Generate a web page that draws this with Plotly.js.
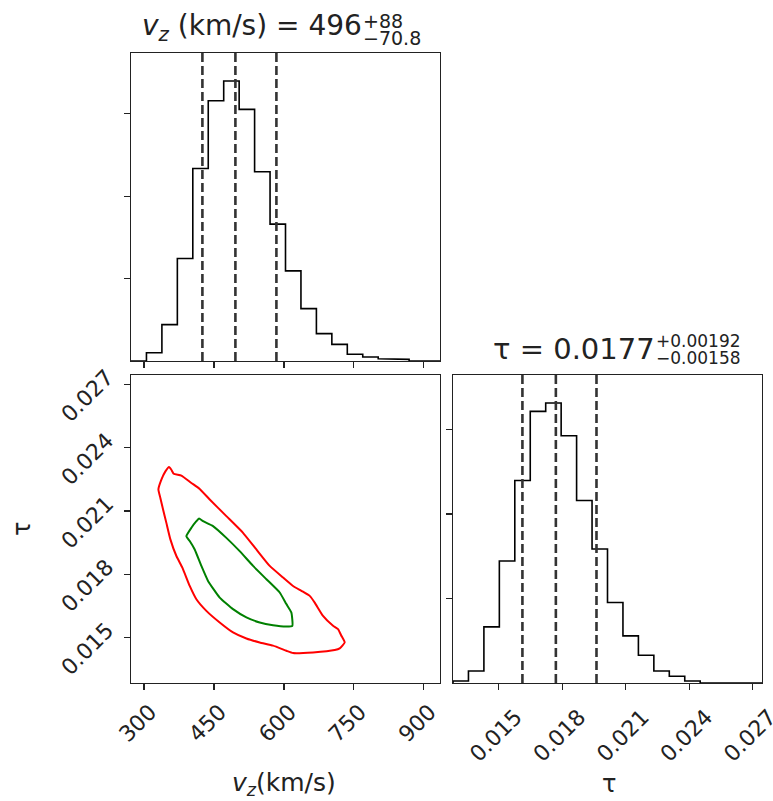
<!DOCTYPE html>
<html><head><meta charset="utf-8">
<script src="https://cdn.plot.ly/plotly-3.0.1.min.js"></script>
<style>html,body{margin:0;padding:0;background:#fff}</style>
</head><body><div id="chart" style="width:773px;height:801px"></div>
<script>
// ---- data ----
const vzRange = [272, 935];
const tauRange = [0.01284, 0.02744];
const vzCounts = [0, 101, 441, 1243, 2336, 3158, 3397, 3053, 2296, 1660, 1093, 636, 332, 202, 81, 49, 28, 20, 0, 0];
const tauCounts = [24, 142, 664, 1443, 2395, 3213, 3312, 2925, 2158, 1585, 953, 557, 328, 142, 79, 24, 0, 0, 0, 0];
const vzQuantiles = [425.2, 496, 584];
const tauQuantiles = [0.01612, 0.0177, 0.01962];
const vzTicks = [300, 450, 600, 750, 900];
const vzTickText = ['300', '450', '600', '750', '900'];
const tauTicks = [0.015, 0.018, 0.021, 0.024, 0.027];
const tauTickText = ['0.015', '0.018', '0.021', '0.024', '0.027'];
const countTicks = [1000, 2000, 3000];
const outerVz = [353.6, 358.6, 363.6, 380.1, 401.6, 419.4, 440.9, 476.6, 512.4, 541.0, 569.6, 598.2, 619.7, 637.6, 655.4, 666.2, 684.0, 705.5, 716.2, 723.4, 730.5, 719.8, 709.1, 662.6, 619.7, 605.4, 576.8, 548.2, 519.6, 490.9, 462.3, 433.7, 412.3, 398.0, 382.2, 369.4, 356.5, 347.9, 340.8, 335.0, 330.8, 337.2, 345.8, 353.6];
const outerTau = [0.02308, 0.02295, 0.02276, 0.02267, 0.02232, 0.02204, 0.02154, 0.02075, 0.01996, 0.01917, 0.01839, 0.01784, 0.01744, 0.01721, 0.01697, 0.01665, 0.01602, 0.01555, 0.01539, 0.01508, 0.01476, 0.01448, 0.01440, 0.01429, 0.01426, 0.01437, 0.01461, 0.01476, 0.01495, 0.01524, 0.01571, 0.01626, 0.01681, 0.01744, 0.01831, 0.01886, 0.01965, 0.02043, 0.02106, 0.02161, 0.02201, 0.02248, 0.02287, 0.02308];
const innerVz = [418.0, 426.6, 448.0, 476.6, 505.2, 533.9, 562.5, 591.1, 605.4, 616.1, 618.2, 605.4, 576.8, 548.2, 519.6, 490.9, 462.3, 437.3, 423.0, 408.7, 398.0, 390.8, 401.6, 412.3, 418.0];
const innerTau = [0.02064, 0.02051, 0.02028, 0.01972, 0.01909, 0.01839, 0.01776, 0.01713, 0.01658, 0.01618, 0.01555, 0.01552, 0.01558, 0.01571, 0.01595, 0.01634, 0.01689, 0.01768, 0.01839, 0.01917, 0.01957, 0.01980, 0.02020, 0.02051, 0.02064];

// ---- helpers ----
function stepXY(range, counts) {
  const w = (range[1] - range[0]) / counts.length;
  const xs = [range[0]], ys = [0];
  counts.forEach((c, i) => { xs.push(range[0] + i * w, range[0] + (i + 1) * w); ys.push(c, c); });
  xs.push(range[1]); ys.push(0);
  return {xs, ys};
}
const W = 773, H = 801;
const px = x => x / W, py = y => 1 - y / H;
const FONT = 'DejaVu Sans';
const TXT = '#222';
const vzTop = 1.1 * Math.max(...vzCounts);
const tauTop = 1.1 * Math.max(...tauCounts);

const traces = [];
const s1 = stepXY(vzRange, vzCounts);
traces.push({x: s1.xs, y: s1.ys, xaxis: 'x', yaxis: 'y', mode: 'lines', line: {color: '#000', width: 1.6}});
vzQuantiles.forEach(q => traces.push({x: [q, q], y: [0, vzTop], xaxis: 'x', yaxis: 'y', mode: 'lines', line: {color: '#333', width: 2.6, dash: '9px,4px'}}));
const s3 = stepXY(tauRange, tauCounts);
traces.push({x: s3.xs, y: s3.ys, xaxis: 'x3', yaxis: 'y3', mode: 'lines', line: {color: '#000', width: 1.6}});
tauQuantiles.forEach(q => traces.push({x: [q, q], y: [0, tauTop], xaxis: 'x3', yaxis: 'y3', mode: 'lines', line: {color: '#333', width: 2.6, dash: '9px,4px'}}));
traces.push({x: outerVz, y: outerTau, xaxis: 'x2', yaxis: 'y2', mode: 'lines', line: {color: '#ff0000', width: 2, shape: 'spline', smoothing: 0.4}});
traces.push({x: innerVz, y: innerTau, xaxis: 'x2', yaxis: 'y2', mode: 'lines', line: {color: '#008000', width: 2, shape: 'spline', smoothing: 0.4}});

const axBase = {showline: true, mirror: true, linecolor: '#222', linewidth: 1.4, ticks: 'outside', ticklen: 6, tickwidth: 1.3, tickcolor: '#222', showgrid: false, zeroline: false, fixedrange: true, ticklabeloverflow: 'allow', tickfont: {family: FONT, size: 22, color: TXT}};
const colA = [px(131), px(440)], colB = [px(453), px(762)];
const rowA = [py(361), py(53)], rowB = [py(683), py(375)];

function ann(text, x, y, xanchor, size, extra) {
  return Object.assign({text, x: px(x), y: py(y), xref: 'paper', yref: 'paper', xanchor, yanchor: 'middle', showarrow: false, borderpad: 0, font: {family: FONT, size, color: TXT}}, extra || {});
}

const layout = {
  width: W, height: H, margin: {l: 0, r: 0, t: 0, b: 0}, showlegend: false,
  paper_bgcolor: '#fff', plot_bgcolor: '#fff',
  xaxis: Object.assign({}, axBase, {domain: colA, anchor: 'y', range: vzRange, tickvals: vzTicks, showticklabels: false}),
  yaxis: Object.assign({}, axBase, {domain: rowA, anchor: 'x', range: [0, vzTop], tickvals: countTicks, showticklabels: false}),
  xaxis2: Object.assign({}, axBase, {domain: colA, anchor: 'y2', range: vzRange, tickvals: vzTicks, ticktext: vzTickText, tickangle: -45, ticklabelshift: 6}),
  yaxis2: Object.assign({}, axBase, {domain: rowB, anchor: 'x2', range: tauRange, tickvals: tauTicks, ticktext: tauTickText, tickangle: -45, ticklabelstandoff: 12, ticklabelshift: -10}),
  xaxis3: Object.assign({}, axBase, {domain: colB, anchor: 'y3', range: tauRange, tickvals: tauTicks, ticktext: tauTickText, tickangle: -45, ticklabelshift: 17, ticklabelstandoff: 5}),
  yaxis3: Object.assign({}, axBase, {domain: rowB, anchor: 'x3', range: [0, tauTop], tickvals: countTicks, showticklabels: false}),
  annotations: [
    ann('<i>v</i><sub><i>z</i></sub> (km/s) = 496', 363, 28, 'right', 28),
    ann('+88', 362, 21, 'left', 19),
    ann('\u221270.8', 362, 38, 'left', 19),
    ann('\u03c4 = 0.0177', 656, 349, 'right', 29),
    ann('+0.00192', 655, 341, 'left', 17),
    ann('\u22120.00158', 655, 358, 'left', 17),
    ann('<i>v</i><sub><i>z</i></sub>(km/s)', 284, 784, 'center', 25),
    ann('\u03c4', 609, 784, 'center', 24),
    ann('\u03c4', 22, 529, 'center', 24, {textangle: -90})
  ]
};
Plotly.newPlot('chart', traces, layout, {displayModeBar: false, staticPlot: true});
</script></body></html>
